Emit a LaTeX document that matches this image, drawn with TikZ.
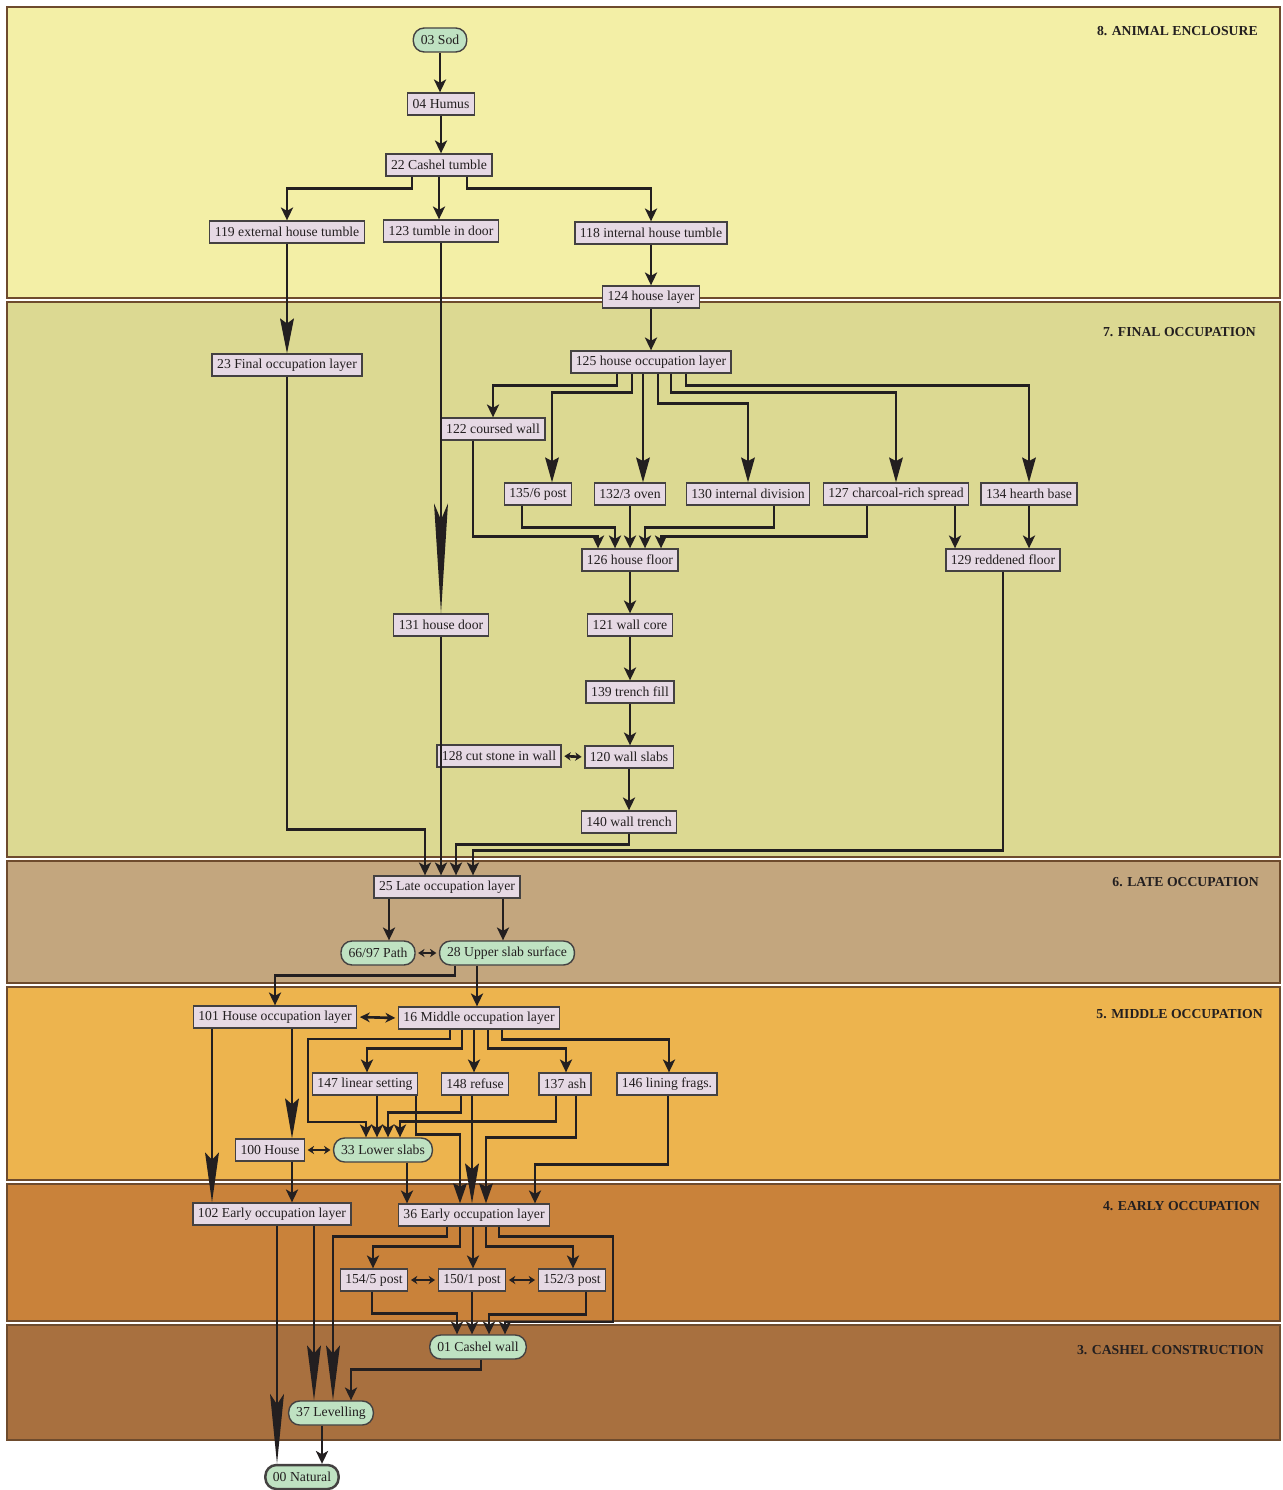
\documentclass[tikz,border=0pt]{standalone}
\usepackage{fontspec}
\setmainfont{Liberation Serif}
\usetikzlibrary{arrows.meta,calc}

\definecolor{ink}{HTML}{231F20}
\definecolor{bandline}{HTML}{6E4B2D}
\definecolor{unitfill}{HTML}{E6D9E4}
\definecolor{depfill}{HTML}{BFE2C2}
\definecolor{phaseviii}{HTML}{F3EFA6}
\definecolor{phasevii}{HTML}{DCD992}
\definecolor{phasevi}{HTML}{C3A67E}
\definecolor{phasev}{HTML}{EDB44E}
\definecolor{phaseiv}{HTML}{C9823A}
\definecolor{phaseiii}{HTML}{A8703F}

\begin{document}
\begin{tikzpicture}[x=0.02cm,y=-0.02cm,
    font=\fontsize{7.8}{9}\selectfont,
    unit/.style={
    % The shape:
    rectangle,minimum height=0.44cm,inner xsep=0.1cm,inner ysep=0pt,
    % The rest
    line width=0.8pt,draw=ink!85,fill=unitfill,text=ink},
    deposit/.style={unit,rounded corners=0.22cm,minimum height=0.48cm,
    inner xsep=0.15cm,fill=depfill},
    band/.style={draw=bandline,line width=1.2pt},
    title/.style={anchor=east,inner sep=0pt,font=\fontsize{7.8}{9}\selectfont\bfseries,text=ink},
    arr/.style={draw=ink,line width=1.5pt,
    -{Stealth[length=0.26cm,width=0.25cm,inset=0.07cm,line width=0pt]}},
    longarr/.style={arr,-{Stealth[length=#1,width=0.28cm,inset'=0pt 0.15,line width=0pt]}},
    both/.style={draw=ink,line width=1.5pt,shorten <=0.05cm,shorten >=0.05cm,
    {Stealth[length=0.13cm,width=0.17cm,line width=0pt]}-{Stealth[length=0.13cm,width=0.17cm,line width=0pt]}},
    bothbig/.style={both,{Stealth[length=0.2cm,width=0.2cm,line width=0pt]}-{Stealth[length=0.2cm,width=0.2cm,line width=0pt]}}]
    \useasboundingbox (0,0) rectangle (1282,1490);

    % phases
    \draw[band,fill=phaseviii] (7,7) rectangle (1280,298);
    \draw[band,fill=phasevii] (7,302) rectangle (1280,857);
    \draw[band,fill=phasevi] (7,861) rectangle (1280,983);
    \draw[band,fill=phasev] (7,987) rectangle (1280,1180);
    \draw[band,fill=phaseiv] (7,1184) rectangle (1280,1321);
    \draw[band,fill=phaseiii] (7,1325) rectangle (1280,1440);
    \node[title] (t8) at (1258,31) {8. ANIMAL ENCLOSURE};
    \node[title] (t7) at (1256,332) {7. FINAL OCCUPATION};
    \node[title] (t6) at (1259,882) {6. LATE OCCUPATION};
    \node[title] (t5) at (1263,1014) {5. MIDDLE OCCUPATION};
    \node[title] (t4) at (1260,1206) {4. EARLY OCCUPATION};
    \node[title] (t3) at (1264,1350) {3. CASHEL CONSTRUCTION};

    % units
    \node[deposit] (sod) at (440,40) {03 Sod};
    \node[unit] (humus) at (441,104) {04 Humus};
    \node[unit] (tumble) at (439,165) {22 Cashel tumble};
    \node[unit] (exttumble) at (287,232) {119 external house tumble};
    \node[unit] (doortumble) at (441,231) {123 tumble in door};
    \node[unit] (inttumble) at (651,233) {118 internal house tumble};
    \node[unit] (houselayer) at (651,297) {124 house layer};
    \node[unit] (finalocc) at (287,365) {23 Final occupation layer};
    \node[unit] (houseocc) at (651,362) {125 house occupation layer};
    \node[unit] (coursed) at (493,429) {122 coursed wall};
    \node[unit] (post1356) at (538,494) {135/6 post};
    \node[unit] (oven) at (630,494) {132/3 oven};
    \node[unit] (division) at (748,494) {130 internal division};
    \node[unit] (charcoal) at (896,494) {127 charcoal-rich spread};
    \node[unit] (hearth) at (1029,494) {134 hearth base};
    \node[unit] (floor) at (630,560) {126 house floor};
    \node[unit] (reddened) at (1003,560) {129 reddened floor};
    \node[unit] (door) at (441,625) {131 house door};
    \node[unit] (core) at (630,625) {121 wall core};
    \node[unit] (trenchfill) at (630,692) {139 trench fill};
    \node[unit] (cutstone) at (499,756) {128 cut stone in wall};
    \node[unit] (slabs) at (629,757) {120 wall slabs};
    \node[unit] (trench) at (629,822) {140 wall trench};
    \node[unit] (lateocc) at (447,887) {25 Late occupation layer};
    \node[deposit] (path) at (378,953) {66/97 Path};
    \node[deposit] (upperslab) at (507,953) {28 Upper slab surface};
    \node[unit] (houseocc101) at (275,1017) {101 House occupation layer};
    \node[unit] (middleocc) at (479,1018) {16 Middle occupation layer};
    \node[unit] (linear) at (365,1084) {147 linear setting};
    \node[unit] (refuse) at (475,1084) {148 refuse};
    \node[unit] (ash) at (565,1084) {137 ash};
    \node[unit] (lining) at (667,1084) {146 lining frags.};
    \node[unit] (house100) at (270,1150) {100 House};
    \node[deposit] (lowerslabs) at (383,1150) {33 Lower slabs};
    \node[unit] (earlyocc102) at (272,1214) {102 Early occupation layer};
    \node[unit] (earlyocc36) at (474,1215) {36 Early occupation layer};
    \node[unit] (post1545) at (374,1280) {154/5 post};
    \node[unit] (post1501) at (472,1280) {150/1 post};
    \node[unit] (post1523) at (572,1280) {152/3 post};
    \node[deposit] (cashelwall) at (478,1347) {01 Cashel wall};
    \node[deposit] (levelling) at (331,1413) {37 Levelling};
    \node[deposit,line width=1.4pt] (natural) at (302,1477) {00 Natural};

    % 8. animal enclosure
    \draw[arr] (sod.south) -- (sod.south |- humus.north);
    \draw[arr] (humus.south) -- (humus.south |- tumble.north);
    \draw[arr] ($(tumble.south)+(-27,0)$) -- ++(0,12) -| (exttumble.north);
    \draw[arr] (tumble.south) -- (tumble.south |- doortumble.north);
    \draw[arr] ($(tumble.south)+(28,0)$) -- ++(0,12) -| (inttumble.north);
    \draw[arr] (inttumble.south) -- (inttumble.south |- houselayer.north);
    \draw[arr] (houselayer.south) -- (houselayer.south |- houseocc.north);
    \draw[longarr=0.7cm] (exttumble.south) -- (exttumble.south |- finalocc.north);
    \draw[longarr=2.2cm] (doortumble.south) -- (doortumble.south |- door.north);

    % 7. final occupation
    \draw[arr] ($(houseocc.south)+(-34,0)$) -- ++(0,12) -| (coursed.north);
    \draw[longarr=0.5cm] ($(houseocc.south)+(-19,0)$) -- ++(0,19) -| ($(post1356.north)+(14,0)$);
    \draw[longarr=0.5cm] ($(houseocc.south)+(-8,0)$) -- ($(oven.north)+(13,0)$);
    \draw[longarr=0.5cm] ($(houseocc.south)+(7,0)$) -- ++(0,30) -| (division.north);
    \draw[longarr=0.5cm] ($(houseocc.south)+(20,0)$) -- ++(0,19) -| (charcoal.north);
    \draw[longarr=0.5cm] ($(houseocc.south)+(35,0)$) -- ++(0,12) -| (hearth.north);
    \draw[arr] ($(coursed.south)+(-20,0)$) |- ($(floor.north)+(-32,-12)$) -- ($(floor.north)+(-32,0)$);
    \draw[arr] ($(post1356.south)+(-16,0)$) |- ($(floor.north)+(-15,-21)$) -- ($(floor.north)+(-15,0)$);
    \draw[arr] (oven.south) -- (oven.south |- floor.north);
    \draw[arr] ($(division.south)+(26,0)$) |- ($(floor.north)+(15,-21)$) -- ($(floor.north)+(15,0)$);
    \draw[arr] ($(charcoal.south)+(-29,0)$) |- ($(floor.north)+(31,-12)$) -- ($(floor.north)+(31,0)$);
    \draw[arr] ($(charcoal.south)+(59,0)$) -- ($(reddened.north)+(-48,0)$);
    \draw[arr] (hearth.south) -- (hearth.south |- reddened.north);
    \draw[arr] (floor.south) -- (floor.south |- core.north);
    \draw[arr] (core.south) -- (core.south |- trenchfill.north);
    \draw[arr] (trenchfill.south) -- (trenchfill.south |- slabs.north);
    \draw[arr] (slabs.south) -- (slabs.south |- trench.north);
    \draw[both] (cutstone.east) -- (slabs.west);

    % 6. late occupation
    \draw[arr] (finalocc.south) |- ($(lateocc.north)+(-22,-46)$) -- ($(lateocc.north)+(-22,0)$);
    \draw[arr] (door.south) -- (door.south |- lateocc.north);
    \draw[arr] (trench.south) |- ($(lateocc.north)+(9,-31)$) -- ($(lateocc.north)+(9,0)$);
    \draw[arr] (reddened.south) |- ($(lateocc.north)+(26,-25)$) -- ($(lateocc.north)+(26,0)$);
    \draw[arr] ($(lateocc.south)+(-58,0)$) -- ($(path.north)+(11,0)$);
    \draw[arr] ($(lateocc.south)+(56,0)$) -- ($(upperslab.north)+(-4,0)$);
    \draw[both] (path.east) -- (upperslab.west);

    % 5. middle occupation
    \draw[arr] ($(upperslab.south)+(-52,0)$) -- ++(0,10) -| (houseocc101.north);
    \draw[arr] ($(upperslab.south)+(-30,0)$) -- ($(middleocc.north)+(-2,0)$);
    \draw[bothbig] (houseocc101.east) -- (middleocc.west);
    \draw[longarr=1cm] ($(houseocc101.south)+(-63,0)$) -- ($(earlyocc102.north)+(-60,0)$);
    \draw[longarr=0.8cm] ($(houseocc101.south)+(17,0)$) -- ($(house100.north)+(22,0)$);
    \draw[arr] ($(middleocc.south)+(-29,0)$) |- (308,1039) -- (308,1122) -| ($(lowerslabs.north)+(-17,0)$);
    \draw[arr] ($(middleocc.south)+(-17,0)$) -- ++(0,19) -| ($(linear.north)+(2,0)$);
    \draw[arr] ($(middleocc.south)+(-5,0)$) -- ($(refuse.north)+(-1,0)$);
    \draw[arr] ($(middleocc.south)+(9,0)$) -- ++(0,19) -| ($(ash.north)+(1,0)$);
    \draw[arr] ($(middleocc.south)+(23,0)$) -- ++(0,10) -| ($(lining.north)+(2,0)$);
    \draw[arr] ($(linear.south)+(12,0)$) -- ($(lowerslabs.north)+(-6,0)$);
    \draw[longarr=0.4cm] ($(linear.south)+(51,0)$) |- ($(earlyocc36.north)+(-14,-69)$) -- ($(earlyocc36.north)+(-14,0)$);
    \draw[arr] ($(refuse.south)+(-14,0)$) |- ($(lowerslabs.north)+(5,-25)$) -- ($(lowerslabs.north)+(5,0)$);
    \draw[longarr=0.8cm] ($(refuse.south)+(-3,0)$) -- ($(earlyocc36.north)+(-2,0)$);
    \draw[arr] ($(ash.south)+(-9,0)$) |- ($(lowerslabs.north)+(17,-16)$) -- ($(lowerslabs.north)+(17,0)$);
    \draw[longarr=0.4cm] ($(ash.south)+(11,0)$) |- ($(earlyocc36.north)+(12,-66)$) -- ($(earlyocc36.north)+(12,0)$);
    \draw[arr] ($(lining.south)+(1,0)$) |- ($(earlyocc36.north)+(61,-39)$) -- ($(earlyocc36.north)+(61,0)$);
    \draw[arr] ($(lowerslabs.south)+(24,0)$) -- ($(earlyocc36.north)+(-67,0)$);
    \draw[arr] ($(house100.south)+(22,0)$) -- ($(earlyocc102.north)+(20,0)$);
    \draw[both] (house100.east) -- (lowerslabs.west);

    % 4. early occupation
    \draw[longarr=1.1cm] ($(earlyocc36.south)+(-27,0)$) -- ++(0,10) -| ($(levelling.north)+(2,0)$);
    \draw[arr] ($(earlyocc36.south)+(-14,0)$) -- ++(0,20) -| ($(post1545.north)+(-1,0)$);
    \draw[arr] ($(earlyocc36.south)+(-1,0)$) -- ($(post1501.north)+(1,0)$);
    \draw[arr] ($(earlyocc36.south)+(12,0)$) -- ++(0,20) -| ($(post1523.north)+(1,0)$);
    \draw[arr] ($(earlyocc36.south)+(25,0)$) -- ++(0,10) -| (613,1322) -| ($(cashelwall.north)+(27,0)$);
    \draw[both] (post1545.east) -- (post1501.west);
    \draw[both] (post1501.east) -- (post1523.west);
    \draw[arr] ($(post1545.south)+(-2,0)$) |- ($(cashelwall.north)+(-21,-21)$) -- ($(cashelwall.north)+(-21,0)$);
    \draw[arr] (post1501.south) -- (post1501.south |- cashelwall.north);
    \draw[arr] ($(post1523.south)+(14,0)$) |- ($(cashelwall.north)+(11,-20)$) -- ($(cashelwall.north)+(11,0)$);

    % 3. cashel construction
    \draw[arr] ($(cashelwall.south)+(3,0)$) -- ++(0,10) -| ($(levelling.north)+(20,0)$);
    \draw[longarr=1.1cm] ($(earlyocc102.south)+(42,0)$) -- ($(levelling.north)+(-17,0)$);
    \draw[longarr=1.4cm] ($(earlyocc102.south)+(5,0)$) -- ($(natural.north)+(-25,0)$);
    \draw[arr] ($(levelling.south)+(-9,0)$) -- ($(natural.north)+(20,0)$);
\end{tikzpicture}
\end{document}
